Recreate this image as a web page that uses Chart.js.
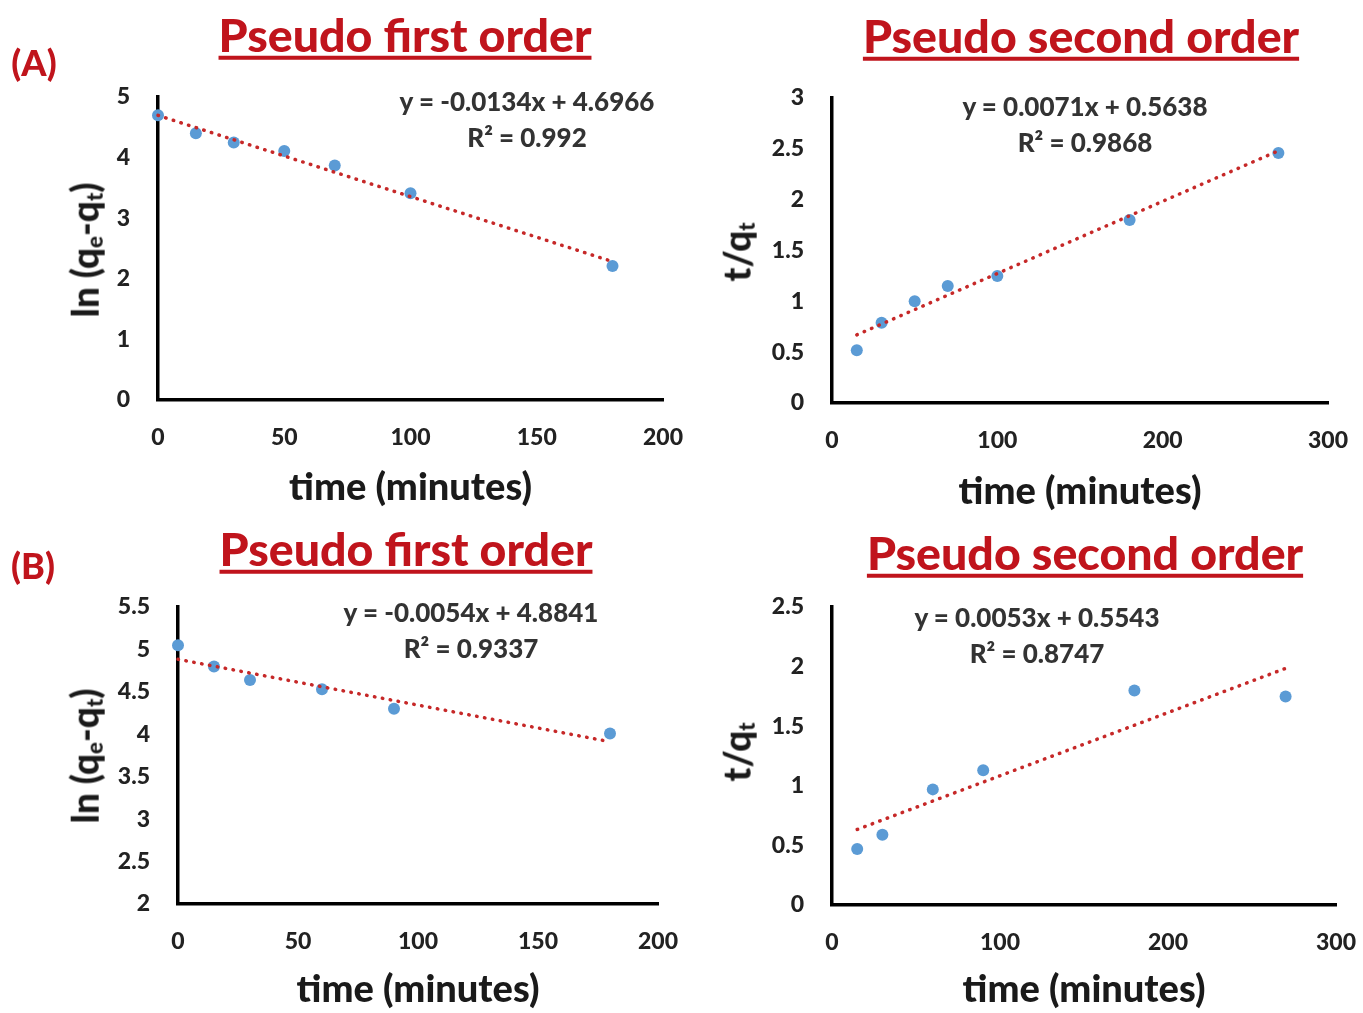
<!DOCTYPE html>
<html>
<head>
<meta charset="utf-8">
<title>Adsorption kinetics – pseudo first and second order fits</title>
<script src="https://cdn.jsdelivr.net/npm/chart.js"></script>
<style>
  html, body { margin: 0; padding: 0; background: #fff; }
  #page { position: relative; width: 1363px; height: 1013px; overflow: hidden; font-family: Lato, "Open Sans", sans-serif; }
  #page canvas { position: absolute; left: 0; top: 0; }
  .txt { position: absolute; white-space: nowrap; font-weight: 900; line-height: 1; transform: translate(-50%, -50%); }
  .head { color: #c0141c; font-size: 46.5px; text-decoration: underline; text-decoration-thickness: 3.5px; text-underline-offset: 4px; }
  .tag { color: #c0141c; font-size: 36px; }
  .eq { color: #333; font-size: 26px; }
  .ytitle { color: #1a1a1a; font-size: 37px; transform: translate(-50%, -50%) rotate(-90deg); }
  .ytitle sub { font-size: 0.6em; vertical-align: -0.2em; }
</style>
</head>
<body>
<div id="page">
  <div class="txt tag" style="left:34px;top:62px">(A)</div>
  <div class="txt tag" style="left:33px;top:565px">(B)</div>

  <div class="txt head" style="left:405px;top:34px">Pseudo first order</div>
  <div class="txt head" style="left:1081px;top:35px">Pseudo second order</div>
  <div class="txt head" style="left:406px;top:548px">Pseudo first order</div>
  <div class="txt head" style="left:1085px;top:552px">Pseudo second order</div>

  <div class="txt ytitle" style="left:86px;top:250px">ln (q<sub>e</sub>-q<sub>t</sub>)</div>
  <div class="txt ytitle" style="left:738px;top:252px">t/q<sub>t</sub></div>
  <div class="txt ytitle" style="left:86px;top:756px">ln (q<sub>e</sub>-q<sub>t</sub>)</div>
  <div class="txt ytitle" style="left:738px;top:752px">t/q<sub>t</sub></div>
</div>

<script>
// ---- measured kinetics data ----
// (A) pseudo first order: ln(qe - qt) against time
const timeA1 = [0, 15, 30, 50, 70, 100, 180];
const lnA1   = [4.70, 4.40, 4.25, 4.11, 3.87, 3.41, 2.21];
// (A) pseudo second order: t/qt against time
const timeA2 = [15, 30, 50, 70, 100, 180, 270];
const tqA2   = [0.52, 0.79, 1.00, 1.15, 1.25, 1.80, 2.46];
// (B) pseudo first order
const timeB1 = [0, 15, 30, 60, 90, 180];
const lnB1   = [5.05, 4.80, 4.64, 4.53, 4.30, 4.01];
// (B) pseudo second order
const timeB2 = [15, 30, 60, 90, 180, 270];
const tqB2   = [0.47, 0.59, 0.97, 1.13, 1.80, 1.75];

// linear trendlines: [slope, intercept] and R² as reported
const fitA1 = [-0.0134, 4.6966];
const fitA2 = [0.0071, 0.5638];
const fitB1 = [-0.0054, 4.8841];
const fitB2 = [0.0053, 0.5543];
const r2Labels = ['0.992', '0.9868', '0.9337', '0.8747'];

// axis ticks
const xTicksFirst  = [0, 50, 100, 150, 200];
const xTicksSecond = [0, 100, 200, 300];
const yTicksA1 = [0, 1, 2, 3, 4, 5];
const yTicksA2 = [0, 0.5, 1, 1.5, 2, 2.5, 3];
const yTicksB1 = [2, 2.5, 3, 3.5, 4, 4.5, 5, 5.5];
const yTicksB2 = [0, 0.5, 1, 1.5, 2, 2.5];

// ---- drawing ----
const PAGE_W = 1363, PAGE_H = 1013;
const page = document.getElementById('page');
const FONT = 'Lato, "Open Sans", sans-serif';
const Y_BOX = 110;          // width reserved for the y tick labels
const X_TITLE_SIZE = 38;
const TICK_FONT = { family: FONT, size: 23, weight: '900' };

function equationText(fit) {
  const s = fit[0] < 0 ? '-' + Math.abs(fit[0]) : String(fit[0]);
  return 'y = ' + s + 'x + ' + fit[1];
}

function addText(cls, x, y, text) {
  const d = document.createElement('div');
  d.className = 'txt ' + cls;
  d.style.left = x + 'px';
  d.style.top = y + 'px';
  d.textContent = text;
  page.appendChild(d);
}

function drawPanel(p) {
  const canvas = document.createElement('canvas');
  canvas.width = PAGE_W;
  canvas.height = PAGE_H;
  page.insertBefore(canvas, page.firstChild);

  const points = p.xs.map((x, i) => ({ x: x, y: p.ys[i] }));
  const x0 = p.xs[0], x1 = p.xs[p.xs.length - 1];
  const trend = [
    { x: x0, y: p.fit[0] * x0 + p.fit[1] },
    { x: x1, y: p.fit[0] * x1 + p.fit[1] }
  ];
  const xBox = p.xTitleGap + X_TITLE_SIZE * 1.2 / 2;
  const fmt = v => String(Number(v.toFixed(2)));

  new Chart(canvas, {
    type: 'scatter',
    data: {
      datasets: [
        {
          type: 'line',
          data: trend,
          borderColor: '#c62828',
          borderWidth: 3.5,
          borderDash: [0.5, 7.5],
          borderCapStyle: 'round',
          pointRadius: 0,
          fill: false,
          clip: false,
          order: 0
        },
        {
          type: 'scatter',
          data: points,
          backgroundColor: '#5b9bd5',
          borderColor: '#5b9bd5',
          borderWidth: 0,
          pointRadius: 6,
          clip: false,
          order: 1
        }
      ]
    },
    options: {
      responsive: false,
      animation: false,
      events: [],
      layout: {
        padding: {
          left: p.area.l - Y_BOX,
          top: p.area.t,
          right: PAGE_W - p.area.r,
          bottom: PAGE_H - p.area.b - xBox
        }
      },
      plugins: { legend: { display: false }, tooltip: { enabled: false } },
      scales: {
        x: {
          type: 'linear',
          min: p.xTicks[0],
          max: p.xTicks[p.xTicks.length - 1],
          ticks: {
            stepSize: p.xTicks[1] - p.xTicks[0],
            padding: 24,
            color: '#222',
            font: TICK_FONT,
            callback: fmt
          },
          grid: { display: false, drawTicks: false },
          border: { display: true, color: '#000', width: 3.5 },
          title: {
            display: true,
            text: 'time (minutes)',
            color: '#1a1a1a',
            padding: 0,
            font: { family: FONT, size: X_TITLE_SIZE, weight: '900' }
          },
          afterFit(s) { s.height = xBox; s.paddingLeft = 0; s.paddingRight = 0; }
        },
        y: {
          type: 'linear',
          min: p.yTicks[0],
          max: p.yTicks[p.yTicks.length - 1],
          ticks: {
            stepSize: p.yTicks[1] - p.yTicks[0],
            padding: 28,
            color: '#222',
            font: TICK_FONT,
            callback: fmt
          },
          grid: { display: false, drawTicks: false },
          border: { display: true, color: '#000', width: 3.5 },
          afterFit(s) { s.width = Y_BOX; s.paddingTop = 0; s.paddingBottom = 0; }
        }
      }
    }
  });

  addText('eq', p.eqPos[0], p.eqPos[1], equationText(p.fit));
  addText('eq', p.eqPos[0], p.eqPos[1] + 36, 'R\u00B2 = ' + p.r2);
}

drawPanel({ xs: timeA1, ys: lnA1, fit: fitA1, r2: r2Labels[0], xTicks: xTicksFirst,  yTicks: yTicksA1,
            area: { l: 158, t: 97,  r: 663,  b: 400 }, xTitleGap: 88, eqPos: [527, 101] });
drawPanel({ xs: timeA2, ys: tqA2, fit: fitA2, r2: r2Labels[1], xTicks: xTicksSecond, yTicks: yTicksA2,
            area: { l: 832, t: 98,  r: 1328, b: 403 }, xTitleGap: 89, eqPos: [1085, 106] });
drawPanel({ xs: timeB1, ys: lnB1, fit: fitB1, r2: r2Labels[2], xTicks: xTicksFirst,  yTicks: yTicksB1,
            area: { l: 178, t: 607, r: 658,  b: 904 }, xTitleGap: 86, eqPos: [471, 612] });
drawPanel({ xs: timeB2, ys: tqB2, fit: fitB2, r2: r2Labels[3], xTicks: xTicksSecond, yTicks: yTicksB2,
            area: { l: 832, t: 607, r: 1336, b: 905 }, xTitleGap: 85, eqPos: [1037, 617] });
</script>
</body>
</html>
